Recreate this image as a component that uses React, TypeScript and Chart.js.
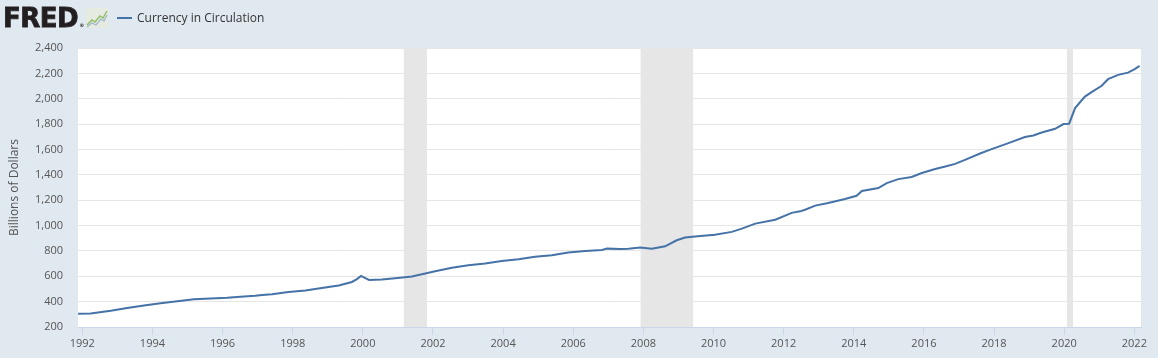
import React, { useEffect, useRef } from 'react';
import { Chart, registerables } from 'chart.js';

Chart.register(...registerables);

// Decimal years of each observation
const years = [
  1991.88, 1992.24, 1992.55, 1992.81, 1993.28, 1993.76, 1994.23, 1994.71, 1995.18, 1995.66,
  1996.13, 1996.61, 1996.93, 1997.13, 1997.41, 1997.88, 1998.36, 1998.83, 1999.31, 1999.69,
  1999.83, 1999.95, 2000.07, 2000.18, 2000.54, 2000.92, 2001.4, 2001.78, 2002.06, 2002.54,
  2003.01, 2003.49, 2003.96, 2004.44, 2004.91, 2005.39, 2005.86, 2006.34, 2006.82, 2006.96,
  2007.34, 2007.57, 2007.91, 2008.24, 2008.62, 2008.95, 2009.19, 2009.47, 2010.04, 2010.52,
  2010.81, 2011.19, 2011.76, 2012.23, 2012.47, 2012.61, 2012.9, 2013.27, 2013.75, 2014.08,
  2014.23, 2014.7, 2014.94, 2015.27, 2015.65, 2015.94, 2016.32, 2016.61, 2016.89, 2017.17,
  2017.6, 2017.93, 2018.41, 2018.88, 2019.12, 2019.36, 2019.74, 2019.98, 2020.14, 2020.31,
  2020.59, 2020.78, 2021.07, 2021.25, 2021.54, 2021.82, 2022.01, 2022.15,
];

// Currency in Circulation, billions of dollars
const values = [
  305, 306, 318, 328, 350, 369, 387, 403, 418, 424,
  430, 440, 446, 452, 458, 476, 487, 508, 528, 555,
  578, 603, 586, 571, 575, 584, 598, 622, 639, 668,
  687, 701, 720, 735, 754, 766, 788, 800, 808, 818,
  816, 818, 826, 818, 836, 884, 905, 913, 928, 950,
  976, 1015, 1046, 1100, 1112, 1125, 1157, 1178, 1209, 1235,
  1272, 1296, 1335, 1366, 1383, 1414, 1446, 1466, 1486, 1518,
  1568, 1603, 1650, 1698, 1710, 1734, 1763, 1800, 1803, 1926,
  2017, 2052, 2102, 2154, 2188, 2206, 2233, 2259,
];

const yearTicks = [1992, 1994, 1996, 1998, 2000, 2002, 2004, 2006, 2008, 2010, 2012, 2014, 2016, 2018, 2020, 2022];
const recessionStarts = [2001.17, 2007.92, 2020.08];
const recessionEnds = [2001.83, 2009.42, 2020.25];
const seriesLabel = 'Currency in Circulation';
const axisTitle = 'Billions of Dollars';
const xMin = 1991.877;
const xMax = 2022.19;
const yMin = 200;
const yMax = 2400;
const yStep = 200;

const PAGE_BG = '#e1e9f0';
const LINE = '#4572a7';

const plotPlugin = {
  id: 'plotBg',
  beforeDraw(chart: any) {
    const { ctx, chartArea } = chart;
    ctx.save();
    ctx.fillStyle = PAGE_BG;
    ctx.fillRect(0, 0, chart.width, chart.height);
    ctx.fillStyle = '#ffffff';
    ctx.fillRect(chartArea.left, chartArea.top, chartArea.right - chartArea.left, chartArea.bottom - chartArea.top);
    ctx.restore();
  },
  beforeDatasetsDraw(chart: any) {
    const { ctx, chartArea } = chart;
    const xs = chart.scales.x;
    ctx.save();
    ctx.fillStyle = '#e6e6e6';
    recessionStarts.forEach((s, i) => {
      const x0 = xs.getPixelForValue(s);
      const x1 = xs.getPixelForValue(recessionEnds[i]);
      ctx.fillRect(x0, chartArea.top, x1 - x0, chartArea.bottom - chartArea.top);
    });
    ctx.restore();
  },
};

export default function App() {
  const ref = useRef<HTMLCanvasElement | null>(null);

  useEffect(() => {
    document.body.style.margin = '0';
    document.body.style.background = PAGE_BG;
    if (!ref.current) return;
    const chart = new Chart(ref.current, {
      type: 'line',
      data: {
        datasets: [
          {
            label: seriesLabel,
            data: years.map((x, i) => ({ x, y: values[i] })),
            borderColor: LINE,
            borderWidth: 2,
            pointRadius: 0,
            tension: 0,
            fill: false,
          },
        ],
      },
      options: {
        responsive: false,
        animation: false,
        devicePixelRatio: 1,
        events: [],
        layout: { padding: { left: 0, right: 17, top: 48, bottom: 0 } },
        plugins: { legend: { display: false }, tooltip: { enabled: false } },
        scales: {
          x: {
            type: 'linear',
            min: xMin,
            max: xMax,
            afterBuildTicks: (scale: any) => {
              scale.ticks = yearTicks.map((v) => ({ value: v }));
            },
            afterFit: (scale: any) => {
              scale.height = 31;
            },
            grid: {
              display: true,
              drawOnChartArea: false,
              drawTicks: true,
              tickLength: 8,
              color: '#ccd6eb',
            },
            border: { display: true, color: '#ccd6eb', width: 1 },
            ticks: {
              autoSkip: false,
              maxRotation: 0,
              padding: 2,
              color: '#555555',
              font: { family: 'Open Sans', size: 11 },
              callback: (v: any) => String(v),
            },
          },
          y: {
            type: 'linear',
            min: yMin,
            max: yMax,
            afterFit: (scale: any) => {
              scale.width = 78;
            },
            grid: { color: '#e6e6e6', drawTicks: false },
            border: { display: false },
            ticks: {
              stepSize: yStep,
              padding: 15,
              color: '#555555',
              font: { family: 'Open Sans', size: 11 },
              callback: (v: any) => Number(v).toLocaleString('en-US'),
            },
            title: {
              display: true,
              text: axisTitle,
              color: '#555555',
              font: { family: 'Open Sans', size: 12 },
              padding: { top: 7, bottom: 0 },
            },
          },
        },
      },
      plugins: [plotPlugin],
    } as any);
    return () => chart.destroy();
  }, []);

  return (
    <div style={{ position: 'relative', width: 1158, height: 358, background: PAGE_BG, overflow: 'hidden' }}>
      <canvas ref={ref} width={1158} height={358} style={{ display: 'block' }} />
      <div
        style={{
          position: 'absolute',
          left: 3,
          top: 4,
          fontFamily: 'DejaVu Sans',
          fontWeight: 'bold',
          fontSize: 26,
          lineHeight: '28px',
          color: '#231f20',
          letterSpacing: -0.5,
          WebkitTextStroke: '0.8px #231f20',
          whiteSpace: 'nowrap',
        }}
      >
        FRED
        <span style={{ fontSize: 5, verticalAlign: 'baseline', marginLeft: 1, WebkitTextStroke: '0px' }}>®</span>
      </div>
      <svg style={{ position: 'absolute', left: 86, top: 8 }} width={22} height={20} viewBox="0 0 22 20">
        <rect x={0} y={0} width={22} height={20} fill="#e6ebe1" />
        <polyline points="1,17 6,12 9,14 14,8 17,10 21,3" fill="none" stroke="#8fbf6a" strokeWidth={1.5} />
        <polyline points="1,19 6,15 10,17 15,11 18,13 21,7" fill="none" stroke="#9fb6cf" strokeWidth={1.2} />
      </svg>
      <div style={{ position: 'absolute', left: 117, top: 17, width: 15, height: 2, background: LINE }} />
      <div
        style={{
          position: 'absolute',
          left: 137,
          top: 9,
          fontFamily: 'Open Sans',
          fontSize: 12,
          lineHeight: '18px',
          color: '#333333',
          whiteSpace: 'nowrap',
        }}
      >
        {seriesLabel}
      </div>
    </div>
  );
}
